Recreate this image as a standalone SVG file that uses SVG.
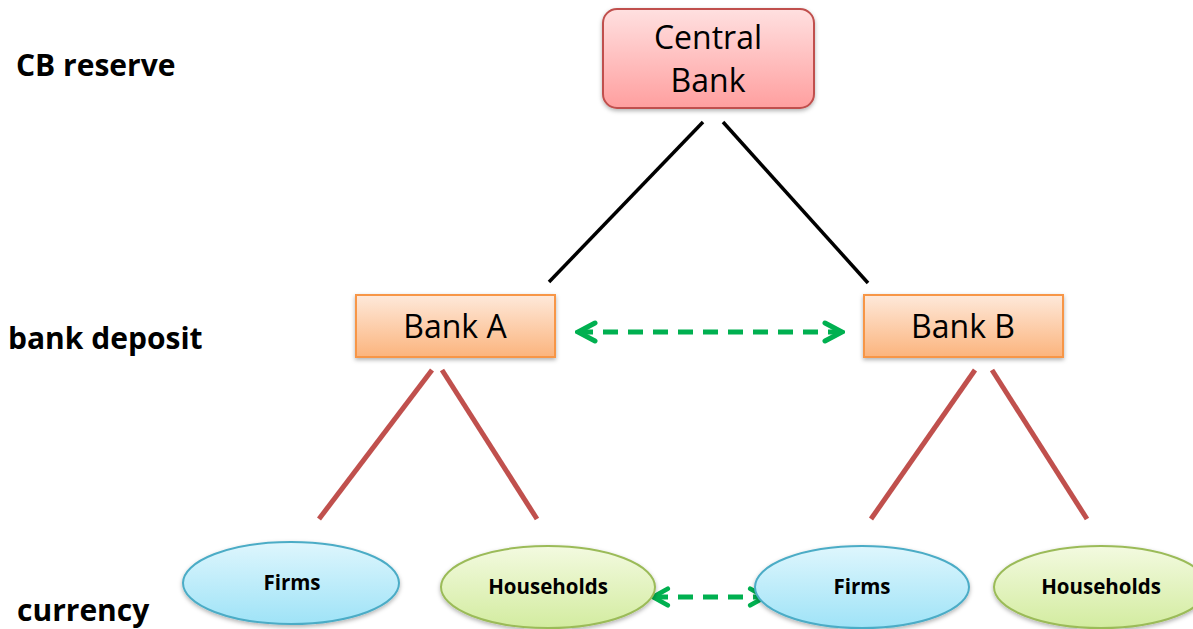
<svg xmlns="http://www.w3.org/2000/svg" width="1193" height="629" viewBox="0 0 1193 629">
<defs>
<linearGradient id="gPink" x1="0" y1="0" x2="0" y2="1"><stop offset="0" stop-color="#ffe0e0"/><stop offset="1" stop-color="#ff9f9f"/></linearGradient>
<linearGradient id="gOrange" x1="0" y1="0" x2="0" y2="1"><stop offset="0" stop-color="#fee9da"/><stop offset="1" stop-color="#fbb47d"/></linearGradient>
<linearGradient id="gBlue" x1="0" y1="0" x2="0" y2="1"><stop offset="0" stop-color="#def6fd"/><stop offset="1" stop-color="#9fe3f7"/></linearGradient>
<linearGradient id="gGreen" x1="0" y1="0" x2="0" y2="1"><stop offset="0" stop-color="#f3fae0"/><stop offset="1" stop-color="#d3eca0"/></linearGradient>
<filter id="sh" x="-10%" y="-10%" width="120%" height="130%"><feDropShadow dx="0" dy="2" stdDeviation="2" flood-color="#000" flood-opacity="0.3"/></filter>
<marker id="chev" viewBox="0 0 26 26" refX="23" refY="13" markerWidth="26" markerHeight="26" orient="auto-start-reverse" markerUnits="userSpaceOnUse"><path d="M6,4 L23,13 L6,22" fill="none" stroke="#00b050" stroke-width="5" stroke-linecap="round" stroke-linejoin="miter"/></marker>
<marker id="chevS" viewBox="0 0 26 26" refX="23" refY="13" markerWidth="24" markerHeight="24" orient="auto-start-reverse" markerUnits="userSpaceOnUse"><path d="M7,4 L23,13 L7,22" fill="none" stroke="#00b050" stroke-width="5" stroke-linecap="round" stroke-linejoin="miter"/></marker>
</defs>
<style>
.lbl{font-family:"Open Sans","Liberation Sans",sans-serif;font-weight:bold;font-size:30px;fill:#000}
.box{font-family:"Open Sans","Liberation Sans",sans-serif;font-size:32px;fill:#000;text-anchor:middle}
.ell{font-family:"Open Sans","Liberation Sans",sans-serif;font-weight:bold;font-size:20.5px;fill:#000;text-anchor:middle}
.blk{stroke:#000;stroke-width:3.5;fill:none}
.red{stroke:#c0504d;stroke-width:5;fill:none}
.grn{stroke:#00b050;stroke-width:5;fill:none;stroke-dasharray:15 10}
</style>
<rect width="1193" height="629" fill="#fff"/>
<g id="labels">
<text class="lbl" x="16" y="76">CB reserve</text>
<text class="lbl" x="8" y="349">bank deposit</text>
<text class="lbl" x="17" y="621">currency</text>
</g>
<g id="connectors">
<line class="blk" x1="703" y1="122" x2="549" y2="282"/>
<line class="blk" x1="723" y1="122" x2="868" y2="283"/>
<line class="red" x1="432" y1="370" x2="319" y2="519"/>
<line class="red" x1="442" y1="370" x2="537" y2="519"/>
<line class="red" x1="975" y1="370" x2="871" y2="519"/>
<line class="red" x1="992" y1="370" x2="1087" y2="519"/>
<line class="grn" x1="578" y1="332" x2="842" y2="332" marker-start="url(#chev)" marker-end="url(#chev)"/>
<line class="grn" x1="653" y1="597" x2="765" y2="597" stroke-dasharray="14 9" marker-start="url(#chevS)" marker-end="url(#chevS)"/>
</g>
<g id="centralBank">
<rect x="603" y="9" width="211" height="99" rx="14" fill="url(#gPink)" stroke="#c0504d" stroke-width="2" filter="url(#sh)"/>
<text class="box" x="708" y="49">Central</text>
<text class="box" x="708" y="92">Bank</text>
</g>
<g id="bankA">
<rect x="356" y="295" width="199" height="62" fill="url(#gOrange)" stroke="#f79646" stroke-width="2" filter="url(#sh)"/>
<text class="box" x="455" y="338">Bank A</text>
</g>
<g id="bankB">
<rect x="864" y="295" width="199" height="62" fill="url(#gOrange)" stroke="#f79646" stroke-width="2" filter="url(#sh)"/>
<text class="box" x="963" y="338">Bank B</text>
</g>
<g id="firmsA">
<ellipse cx="291" cy="583" rx="108" ry="41" fill="url(#gBlue)" stroke="#4bacc6" stroke-width="2" filter="url(#sh)"/>
<text class="ell" x="292" y="590">Firms</text>
</g>
<g id="householdsA">
<ellipse cx="548" cy="587" rx="107" ry="41" fill="url(#gGreen)" stroke="#9bbb59" stroke-width="2" filter="url(#sh)"/>
<text class="ell" x="548" y="594">Households</text>
</g>
<g id="firmsB">
<ellipse cx="862" cy="587" rx="107" ry="41" fill="url(#gBlue)" stroke="#4bacc6" stroke-width="2" filter="url(#sh)"/>
<text class="ell" x="862" y="594">Firms</text>
</g>
<g id="householdsB">
<ellipse cx="1101" cy="587" rx="107" ry="41" fill="url(#gGreen)" stroke="#9bbb59" stroke-width="2" filter="url(#sh)"/>
<text class="ell" x="1101" y="594">Households</text>
</g>
</svg>
